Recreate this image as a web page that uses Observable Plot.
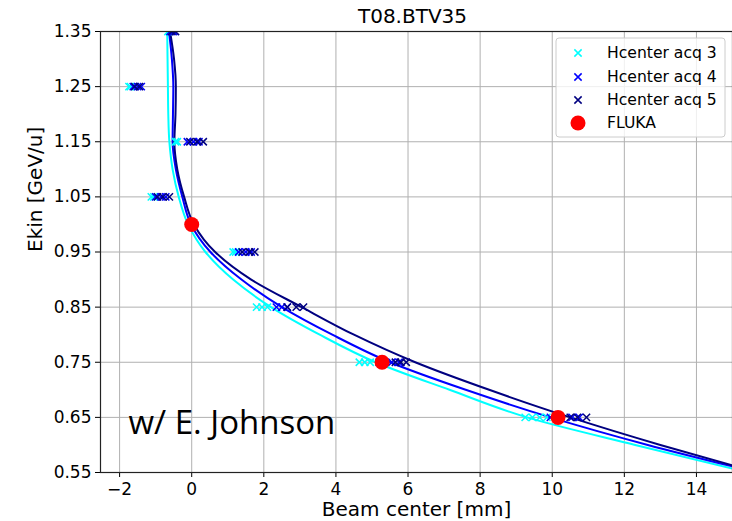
<!DOCTYPE html>
<html><head><meta charset="utf-8">
<script src="https://cdn.jsdelivr.net/npm/d3@7"></script>
<script src="https://cdn.jsdelivr.net/npm/@observablehq/plot@0.6"></script>
<style>body{margin:0;background:#fff} svg{display:block}</style>
</head><body><div id="chart"></div>
<script>
// ---- tick labels ----
const xTicks = [-2, 0, 2, 4, 6, 8, 10, 12, 14];
const yTicks = [0.55, 0.65, 0.75, 0.85, 0.95, 1.05, 1.15, 1.25, 1.35];

// ---- model curves (Beam center [mm] vs Ekin [GeV/u]) ----
const curve3E = [1.35, 1.30, 1.25, 1.20, 1.15, 1.10, 1.05, 1.00, 0.95, 0.90, 0.85, 0.80, 0.75, 0.70, 0.65, 0.60, 0.557];
const curve3X = [-0.68, -0.67, -0.66, -0.65, -0.62, -0.53, -0.36, -0.10, 0.38, 1.15, 2.2, 3.55, 5.1, 7.15, 9.3, 12.3, 15.0];
const curve4E = [1.35, 1.30, 1.25, 1.20, 1.15, 1.10, 1.05, 1.00, 0.95, 0.90, 0.85, 0.80, 0.75, 0.70, 0.65, 0.60, 0.561];
const curve4X = [-0.63, -0.55, -0.51, -0.52, -0.53, -0.44, -0.26, -0.02, 0.52, 1.38, 2.5, 3.9, 5.5, 7.6, 9.95, 12.65, 15.0];
const curve5E = [1.35, 1.30, 1.25, 1.20, 1.15, 1.10, 1.05, 1.00, 0.95, 0.90, 0.85, 0.80, 0.75, 0.70, 0.65, 0.60, 0.563];
const curve5X = [-0.60, -0.49, -0.44, -0.45, -0.48, -0.40, -0.21, 0.06, 0.65, 1.65, 3.05, 4.5, 6.2, 8.25, 10.5, 13.0, 15.0];

// ---- measured beam centers ----
const acq3E = [1.35, 1.25, 1.25, 1.15, 1.15, 1.05, 1.05, 0.95, 0.95, 0.85, 0.85, 0.85, 0.75, 0.75, 0.75, 0.65, 0.65, 0.65, 0.65];
const acq3X = [-0.66, -1.74, -1.70, -0.45, -0.40, -1.12, -1.05, 1.15, 1.22, 1.8, 1.95, 2.1, 4.65, 4.8, 4.95, 9.25, 9.45, 9.65, 9.85];
const acq4E = [1.35, 1.35, 1.25, 1.25, 1.25, 1.15, 1.15, 1.15, 1.05, 1.05, 1.05, 0.95, 0.95, 0.95, 0.85, 0.85, 0.85, 0.75, 0.75, 0.75, 0.65, 0.65, 0.65];
const acq4X = [-0.6, -0.5, -1.62, -1.5, -1.4, -0.12, 0.05, 0.2, -1.0, -0.85, -0.72, 1.3, 1.5, 1.65, 2.35, 2.5, 2.65, 5.2, 5.55, 5.75, 9.95, 10.55, 10.75];
const acq5E = [1.35, 1.35, 1.25, 1.25, 1.15, 1.15, 1.15, 1.05, 1.05, 1.05, 0.95, 0.95, 0.95, 0.85, 0.85, 0.85, 0.75, 0.75, 0.75, 0.65, 0.65, 0.65];
const acq5X = [-0.55, -0.45, -1.58, -1.45, -0.05, 0.15, 0.32, -0.95, -0.8, -0.62, 1.4, 1.6, 1.75, 2.65, 2.9, 3.1, 5.65, 5.8, 5.95, 10.5, 10.7, 10.95];

// ---- FLUKA simulation ----
const flukaE = [1.00, 0.75, 0.65];
const flukaX = [0.0, 5.28, 10.16];

// ---- series names / colours ----
const seriesNames = ["Hcenter acq 3", "Hcenter acq 4", "Hcenter acq 5", "FLUKA"];
const seriesColors = ["#00ffff", "#0000ff", "#000080", "#ff0000"];

const zip = (xs, es) => xs.map((x, i) => ({x, e: es[i]}));
const byE = arr => arr.slice().sort((a, b) => a.e - b.e);
const c3 = byE(zip(curve3X, curve3E)), c4 = byE(zip(curve4X, curve4E)), c5 = byE(zip(curve5X, curve5E));
const a3 = zip(acq3X, acq3E), a4 = zip(acq4X, acq4E), a5 = zip(acq5X, acq5E);
const fl = zip(flukaX, flukaE);

const fmtX = d => d < 0 ? "\u2212" + Math.abs(d) : String(d);
const fmtY = d3.format(".2f");
const font = "DejaVu Sans";
const markR = 3.4;

const chart = Plot.plot({
  width: 732, height: 521,
  marginLeft: 100, marginRight: 0, marginTop: 31, marginBottom: 49,
  style: {fontFamily: font, fontSize: "17px", color: "#000", background: "#fff", overflow: "visible"},
  x: {domain: [-2.53, 15]},
  y: {domain: [0.55, 1.35]},
  marks: [
    Plot.gridX(xTicks, {stroke: "#b0b0b0", strokeOpacity: 1, strokeWidth: 1}),
    Plot.gridY(yTicks, {stroke: "#b0b0b0", strokeOpacity: 1, strokeWidth: 1}),
    Plot.axisX(xTicks, {tickSize: 5, tickPadding: 5, fontSize: 17, tickFormat: fmtX, label: null, stroke: "#000"}),
    Plot.axisY(yTicks, {tickSize: 5, tickPadding: 4, fontSize: 17, tickFormat: fmtY, label: null, stroke: "#000"}),
    Plot.line(c3, {x: "x", y: "e", stroke: seriesColors[0], strokeWidth: 2, curve: "monotone-y", clip: true}),
    Plot.line(c4, {x: "x", y: "e", stroke: seriesColors[1], strokeWidth: 2, curve: "monotone-y", clip: true}),
    Plot.line(c5, {x: "x", y: "e", stroke: seriesColors[2], strokeWidth: 2, curve: "monotone-y", clip: true}),
    Plot.dot(a3, {x: "x", y: "e", symbol: "times", r: markR, stroke: seriesColors[0], strokeWidth: 1.5, clip: true}),
    Plot.dot(a4, {x: "x", y: "e", symbol: "times", r: markR, stroke: seriesColors[1], strokeWidth: 1.5, clip: true}),
    Plot.dot(a5, {x: "x", y: "e", symbol: "times", r: markR, stroke: seriesColors[2], strokeWidth: 1.5, clip: true}),
    Plot.dot(fl, {x: "x", y: "e", r: 7.5, fill: seriesColors[3], stroke: "none", clip: true}),
    Plot.frame({stroke: "#222", strokeWidth: 1.2}),
    Plot.text(["T08.BTV35"], {frameAnchor: "top", dx: -4, dy: -15, fontSize: 20, fill: "#000", lineAnchor: "middle"}),
    Plot.text(["Beam center [mm]"], {frameAnchor: "bottom", dx: 0, dy: 37, fontSize: 20, fill: "#000", lineAnchor: "middle"}),
    Plot.text(["Ekin [GeV/u]"], {frameAnchor: "left", dx: -65, dy: 0, rotate: -90, fontSize: 20, fill: "#000", lineAnchor: "middle"}),
    Plot.text(["w/ E. Johnson"], {frameAnchor: "bottom-left", dx: 28, dy: -49, fontSize: 33, fontFamily: "Open Sans", fill: "#000", textAnchor: "start", lineAnchor: "middle"})
  ]
});
document.getElementById("chart").append(chart);

// ---- legend ----
const svg = d3.select(chart);
const lg = svg.append("g").attr("font-family", font).attr("font-size", 15.6).attr("text-anchor", "start");
lg.append("rect").attr("x", 556).attr("y", 38).attr("width", 169).attr("height", 99)
  .attr("rx", 3).attr("fill", "#fff").attr("fill-opacity", 0.8).attr("stroke", "#cccccc").attr("stroke-width", 1);
const rowsY = [53, 77, 100, 123];
seriesNames.forEach((name, i) => {
  const y = rowsY[i];
  if (i < 3) {
    lg.append("path").attr("d", d3.symbol(d3.symbolTimes, markR * markR * Math.PI)())
      .attr("transform", `translate(578,${y})`).attr("stroke", seriesColors[i]).attr("stroke-width", 1.5).attr("fill", "none");
  } else {
    lg.append("circle").attr("cx", 578).attr("cy", y).attr("r", 7.5).attr("fill", seriesColors[i]);
  }
  lg.append("text").attr("x", 607).attr("y", y).attr("dy", "0.35em").attr("text-anchor", "start").attr("fill", "#000").text(name);
});
</script></body></html>
